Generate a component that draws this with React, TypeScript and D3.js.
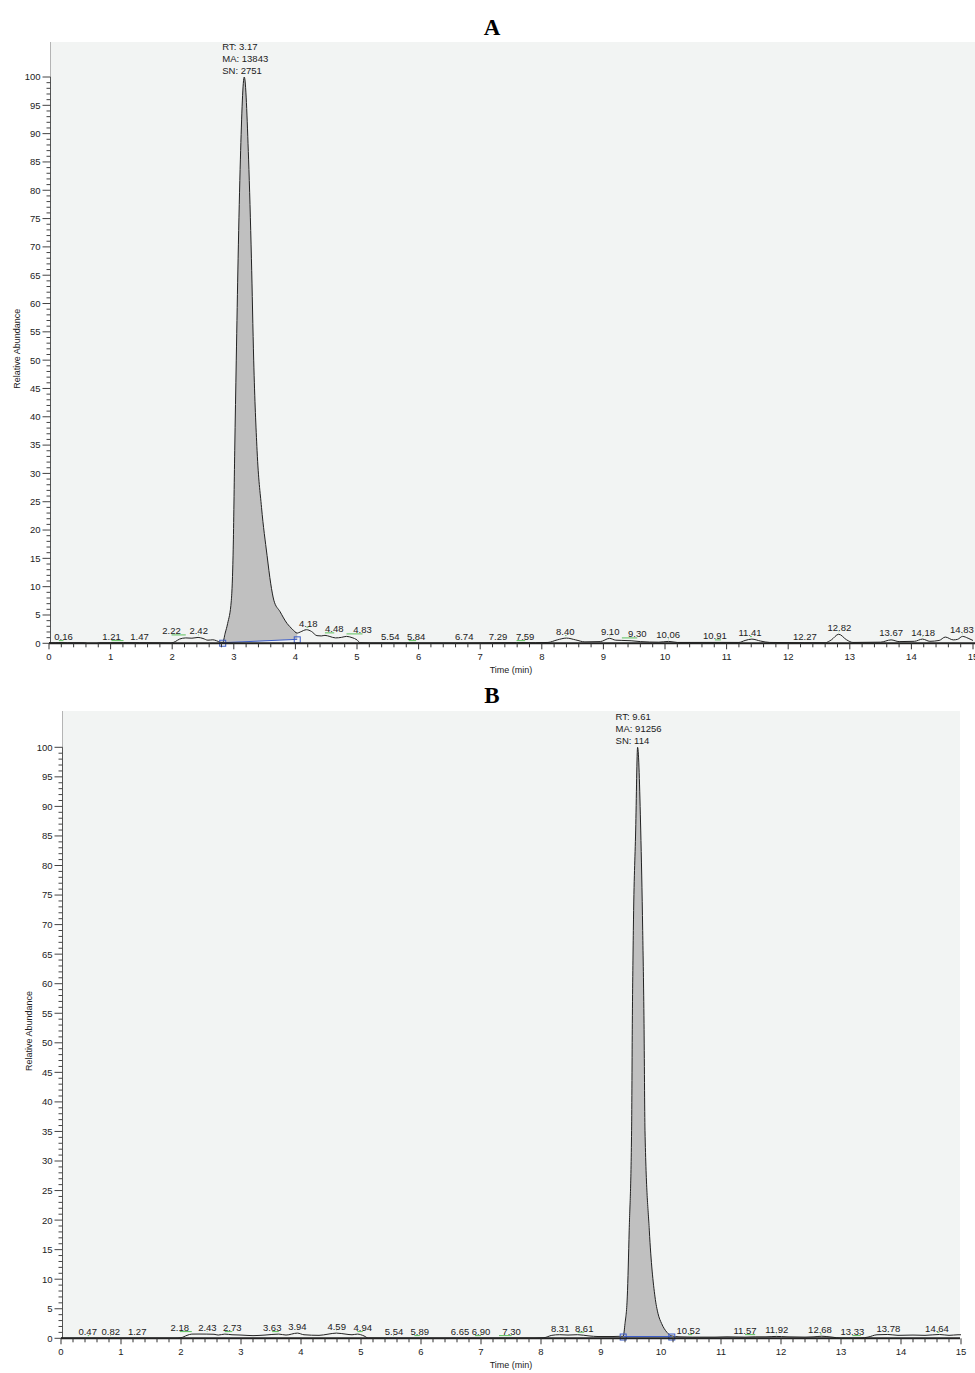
import React from "react";
import * as d3 from "d3";

// ---------- data ----------
const xTickLabels = ["0", "1", "2", "3", "4", "5", "6", "7", "8", "9", "10", "11", "12", "13", "14", "15"];
const yTickLabels = ["0", "5", "10", "15", "20", "25", "30", "35", "40", "45", "50", "55", "60", "65", "70", "75", "80", "85", "90", "95", "100"];

// Chromatogram A (time min, relative abundance %)
const traceA: [number, number][] = [
  [0, 0.1], [0.1, 0.1], [0.16, 0.12], [0.3, 0.1], [0.58, 0.1], [0.62, 0.0], [0.78, 0.0], [0.82, 0.1],
  [1.0, 0.1], [1.21, 0.12], [1.47, 0.1], [1.8, 0.08], [1.98, 0.05], [2.05, 0.3], [2.12, 0.75],
  [2.22, 0.95], [2.32, 0.9], [2.42, 1.04], [2.5, 0.85], [2.58, 0.55], [2.66, 0.62], [2.72, 0.45],
  [2.78, 0.2], [2.82, 0.15], [2.86, 1.8], [2.9, 3.5], [2.96, 7.6], [2.99, 16.5], [3.015, 34],
  [3.04, 50], [3.07, 68], [3.107, 85.5], [3.17, 100], [3.24, 85.5], [3.286, 68], [3.323, 50],
  [3.378, 34], [3.45, 24], [3.54, 15.5], [3.6, 10.5], [3.65, 7.6], [3.75, 5.6], [3.865, 3.5],
  [3.95, 2.5], [4.03, 1.8], [4.08, 2.0], [4.18, 2.4], [4.26, 2.1], [4.35, 1.35], [4.42, 1.3],
  [4.48, 1.4], [4.56, 1.2], [4.65, 0.95], [4.75, 1.05], [4.83, 1.22], [4.92, 1.0], [5.0, 0.6],
  [5.05, 0.1], [5.2, 0.05], [5.54, 0.05], [5.84, 0.05], [6.2, 0.05], [6.74, 0.05], [7.29, 0.1],
  [7.59, 0.12], [7.9, 0.1], [8.1, 0.15], [8.25, 0.6], [8.4, 0.92], [8.55, 0.6], [8.7, 0.25],
  [8.95, 0.3], [9.1, 0.87], [9.2, 0.55], [9.3, 0.51], [9.45, 0.45], [9.6, 0.3], [9.9, 0.2],
  [10.06, 0.34], [10.2, 0.15], [10.91, 0.16], [11.2, 0.15], [11.3, 0.5], [11.41, 0.74],
  [11.55, 0.4], [11.7, 0.15], [12.27, 0.1], [12.6, 0.1], [12.7, 0.6], [12.82, 1.6], [12.95, 0.6],
  [13.05, 0.15], [13.5, 0.2], [13.67, 0.6], [13.8, 0.3], [14.05, 0.35], [14.18, 0.74], [14.3, 0.35],
  [14.45, 0.5], [14.55, 1.1], [14.68, 0.6], [14.75, 0.7], [14.83, 1.22], [14.92, 0.9], [15.0, 0.5],
];

// Chromatogram B
const traceB: [number, number][] = [
  [0, 0.03], [0.47, 0.03], [0.82, 0.03], [1.27, 0.03], [1.9, 0.03], [2.0, 0.1], [2.1, 0.5],
  [2.18, 0.71], [2.3, 0.72], [2.43, 0.71], [2.55, 0.68], [2.62, 0.55], [2.73, 0.71], [2.85, 0.6],
  [3.0, 0.55], [3.2, 0.45], [3.4, 0.55], [3.63, 0.71], [3.75, 0.55], [3.94, 0.88], [4.05, 0.6],
  [4.3, 0.5], [4.45, 0.7], [4.59, 0.88], [4.75, 0.7], [4.85, 0.6], [4.94, 0.71], [5.05, 0.4],
  [5.12, 0.05], [5.54, 0.03], [5.89, 0.03], [6.65, 0.03], [6.9, 0.03], [7.3, 0.03], [7.9, 0.05],
  [8.05, 0.1], [8.18, 0.5], [8.31, 0.61], [8.45, 0.55], [8.61, 0.61], [8.8, 0.4], [8.95, 0.3],
  [9.2, 0.3], [9.37, 0.35], [9.4, 2.5], [9.438, 7.0], [9.47, 18.3], [9.51, 35.2], [9.522, 53.3],
  [9.539, 69], [9.578, 86], [9.61, 100], [9.662, 86], [9.695, 69], [9.717, 53.3], [9.733, 35.2],
  [9.805, 18.3], [9.9, 7.0], [9.95, 4.2], [10.01, 2.5], [10.1, 1.0], [10.18, 0.4], [10.3, 0.25],
  [10.52, 0.2], [10.9, 0.2], [11.1, 0.25], [11.4, 0.2], [11.57, 0.25], [11.75, 0.25], [11.92, 0.32],
  [12.1, 0.25], [12.4, 0.2], [12.55, 0.25], [12.68, 0.35], [12.85, 0.2], [13.0, 0.03], [13.19, 0.03],
  [13.33, 0.05], [13.45, 0.2], [13.6, 0.6], [13.78, 0.65], [13.95, 0.5], [14.2, 0.55], [14.4, 0.5],
  [14.64, 0.65], [14.8, 0.5], [14.95, 0.6], [15.0, 0.6],
];

// peak labels: rt, apex height, label anchor time
const labelsA = [
  { rt: 0.16, h: 0.03, at: 0.235 }, { rt: 1.21, h: 0.03, at: 1.014 }, { rt: 1.47, h: 0.03, at: 1.47 },
  { rt: 2.22, h: 1.04, at: 1.99 }, { rt: 2.42, h: 1.04, at: 2.43 }, { rt: 4.18, h: 2.4, at: 4.21 },
  { rt: 4.48, h: 1.4, at: 4.63 }, { rt: 4.83, h: 1.22, at: 5.09 }, { rt: 5.54, h: 0.03, at: 5.54 },
  { rt: 5.84, h: 0.03, at: 5.96 }, { rt: 6.74, h: 0.03, at: 6.74 }, { rt: 7.29, h: 0.03, at: 7.29 },
  { rt: 7.59, h: 0.03, at: 7.73 }, { rt: 8.4, h: 0.92, at: 8.38 }, { rt: 9.1, h: 0.87, at: 9.11 },
  { rt: 9.3, h: 0.51, at: 9.55 }, { rt: 10.06, h: 0.34, at: 10.05 }, { rt: 10.91, h: 0.16, at: 10.81 },
  { rt: 11.41, h: 0.74, at: 11.38 }, { rt: 12.27, h: 0.03, at: 12.27 }, { rt: 12.82, h: 1.6, at: 12.83 },
  { rt: 13.67, h: 0.74, at: 13.67 }, { rt: 14.18, h: 0.74, at: 14.19 }, { rt: 14.83, h: 1.22, at: 14.82 },
];
const labelsB = [
  { rt: 0.47, h: 0.03, at: 0.445 }, { rt: 0.82, h: 0.03, at: 0.83 }, { rt: 1.27, h: 0.03, at: 1.27 },
  { rt: 2.18, h: 0.71, at: 1.98 }, { rt: 2.43, h: 0.71, at: 2.44 }, { rt: 2.73, h: 0.71, at: 2.855 },
  { rt: 3.63, h: 0.71, at: 3.52 }, { rt: 3.94, h: 0.88, at: 3.94 }, { rt: 4.59, h: 0.88, at: 4.595 },
  { rt: 4.94, h: 0.71, at: 5.03 }, { rt: 5.54, h: 0.03, at: 5.55 }, { rt: 5.89, h: 0.03, at: 5.98 },
  { rt: 6.65, h: 0.03, at: 6.65 }, { rt: 6.9, h: 0.03, at: 7.0 }, { rt: 7.3, h: 0.03, at: 7.51 },
  { rt: 8.31, h: 0.61, at: 8.32 }, { rt: 8.61, h: 0.61, at: 8.72 }, { rt: 10.52, h: 0.2, at: 10.455 },
  { rt: 11.57, h: 0.2, at: 11.4 }, { rt: 11.92, h: 0.32, at: 11.93 }, { rt: 12.68, h: 0.32, at: 12.65 },
  { rt: 13.33, h: 0.03, at: 13.19 }, { rt: 13.78, h: 0.61, at: 13.79 }, { rt: 14.64, h: 0.61, at: 14.6 },
];

const peakA = { rt: 3.17, ma: "13843", sn: "2751", start: [2.82, 0.1], end: [4.03, 0.7] };
const peakB = { rt: 9.61, ma: "91256", sn: "114", start: [9.37, 0.3], end: [10.18, 0.3] };

// ---------- drawing ----------
const FONT = "'Liberation Sans', Arial, sans-serif";
const TXT = "#222";

type Lbl = { rt: number; h: number; at: number };
type Peak = { rt: number; ma: string; sn: string; start: number[]; end: number[] };

function Panel(props: {
  title: string; titleY: number; x0: number; x15: number; bgRight: number; bgTop: number;
  y0: number; y100: number; trace: [number, number][]; labels: Lbl[]; peak: Peak;
}) {
  const { title, titleY, x0, x15, bgRight, bgTop, y0, y100, trace, labels, peak } = props;
  const x = d3.scaleLinear().domain([0, 15]).range([x0, x15]);
  const y = d3.scaleLinear().domain([0, 100]).range([y0, y100]);
  const axX = x0 + 1.5;

  const lineGen = d3.line<[number, number]>().x((d) => x(d[0])).y((d) => y(d[1])).curve(d3.curveMonotoneX);

  const [s0, sv] = peak.start;
  const [e0, ev] = peak.end;
  const baseAt = (t: number) => sv + ((t - s0) / (e0 - s0)) * (ev - sv);
  const interp = (t: number) => {
    for (let i = 1; i < trace.length; i++) {
      if (trace[i][0] >= t) {
        const a = trace[i - 1], b = trace[i];
        return a[1] + ((t - a[0]) / (b[0] - a[0])) * (b[1] - a[1]);
      }
    }
    return trace[trace.length - 1][1];
  };
  const peakPts: [number, number][] = [
    [s0, interp(s0)],
    ...trace.filter((d) => d[0] > s0 && d[0] < e0),
    [e0, interp(e0)],
  ];
  const area = d3
    .area<[number, number]>()
    .x((d) => x(d[0]))
    .y0((d) => y(baseAt(d[0])))
    .y1((d) => y(d[1]))
    .curve(d3.curveMonotoneX);

  const yMinor = d3.range(0, 101, 1);
  const xMinor = d3.range(0, 75.5, 1).map((i) => i * 0.2);
  const annX = x(peak.rt) - 22;

  return (
    <g>
      <text x={492} y={titleY} textAnchor="middle" fontFamily="'Liberation Serif', 'Times New Roman', serif" fontWeight="bold" fontSize={23} fill="#000">
        {title}
      </text>
      <rect x={axX} y={bgTop} width={bgRight - axX} height={y0 - bgTop} fill="#f2f4f3" />
      <line x1={axX} x2={axX} y1={bgTop} y2={y0} stroke="#b4b4b4" strokeWidth={1} />
      {/* y axis */}
      <line x1={axX} x2={axX} y1={y(100)} y2={y0} stroke="#555" strokeWidth={1} />
      {yMinor.map((v) => (
        <line key={"ym" + v} x1={axX - (v % 5 === 0 ? 8 : 4)} x2={axX} y1={y(v)} y2={y(v)} stroke="#444" strokeWidth={1} />
      ))}
      {yTickLabels.map((l) => (
        <text key={"yl" + l} x={axX - 10} y={y(+l) + 3.4} textAnchor="end" fontFamily={FONT} fontSize={9.5} fill={TXT}>
          {l}
        </text>
      ))}
      <text transform={`translate(${axX - 31},${y(52)}) rotate(-90)`} textAnchor="middle" fontFamily={FONT} fontSize={9} fill={TXT}>
        Relative Abundance
      </text>
      {/* peak fill + trace */}
      <path d={area(peakPts) || ""} fill="#c0c0c0" stroke="none" />
      <path d={lineGen(trace) || ""} fill="none" stroke="#222" strokeWidth={1} />
      {/* integration baseline */}
      <line x1={x(s0)} x2={x(e0)} y1={y(sv)} y2={y(ev)} stroke="#3a5bc7" strokeWidth={1} />
      <rect x={x(s0) - 3} y={y(sv) - 2.5} width={6} height={6} fill="none" stroke="#3a5bc7" strokeWidth={1} />
      <rect x={x(e0) - 3} y={y(ev) - 2.5} width={6} height={6} fill="none" stroke="#3a5bc7" strokeWidth={1} />
      {/* x axis */}
      <line x1={x0} x2={bgRight} y1={y0} y2={y0} stroke="#222" strokeWidth={2} />
      {xMinor.map((t, i) => (
        <line key={"xm" + i} x1={x(t)} x2={x(t)} y1={y0} y2={y0 + (i % 5 === 0 ? 6 : 4)} stroke="#333" strokeWidth={1} />
      ))}
      {xTickLabels.map((l) => (
        <text key={"xl" + l} x={x(+l)} y={y0 + 16.5} textAnchor="middle" fontFamily={FONT} fontSize={9.5} fill={TXT}>
          {l}
        </text>
      ))}
      <text x={x(7.5)} y={y0 + 30} textAnchor="middle" fontFamily={FONT} fontSize={9} fill={TXT}>
        Time (min)
      </text>
      {/* peak labels */}
      {labels.map((d) => (
        <g key={"pl" + d.rt}>
          <line x1={x(d.rt)} x2={x(d.at)} y1={y(d.h) - 2.5} y2={y(d.h) - 2.5} stroke="#5cc05c" strokeWidth={1} />
          <text x={x(d.at)} y={y(d.h) - 3} textAnchor="middle" fontFamily={FONT} fontSize={9.5} fill={TXT}>
            {d.rt.toFixed(2)}
          </text>
        </g>
      ))}
      {/* main peak annotation */}
      {[`RT: ${peak.rt.toFixed(2)}`, `MA: ${peak.ma}`, `SN: ${peak.sn}`].map((s, i) => (
        <text key={"an" + i} x={annX} y={y(100) - 27 + 12 * i} fontFamily={FONT} fontSize={9.5} fill={TXT}>
          {s}
        </text>
      ))}
    </g>
  );
}

export default function App() {
  return (
    <svg
      width={975}
      height={1373}
      style={{ position: "absolute", left: 0, top: 0, display: "block", background: "#fff" }}
    >
      <rect width={975} height={1373} fill="#fff" />
      <Panel title="A" titleY={35} x0={49} x15={973} bgRight={975} bgTop={42} y0={643.3} y100={77} trace={traceA} labels={labelsA} peak={peakA} />
      <Panel title="B" titleY={703} x0={61} x15={961} bgRight={960} bgTop={711} y0={1338.3} y100={747.3} trace={traceB} labels={labelsB} peak={peakB} />
    </svg>
  );
}
